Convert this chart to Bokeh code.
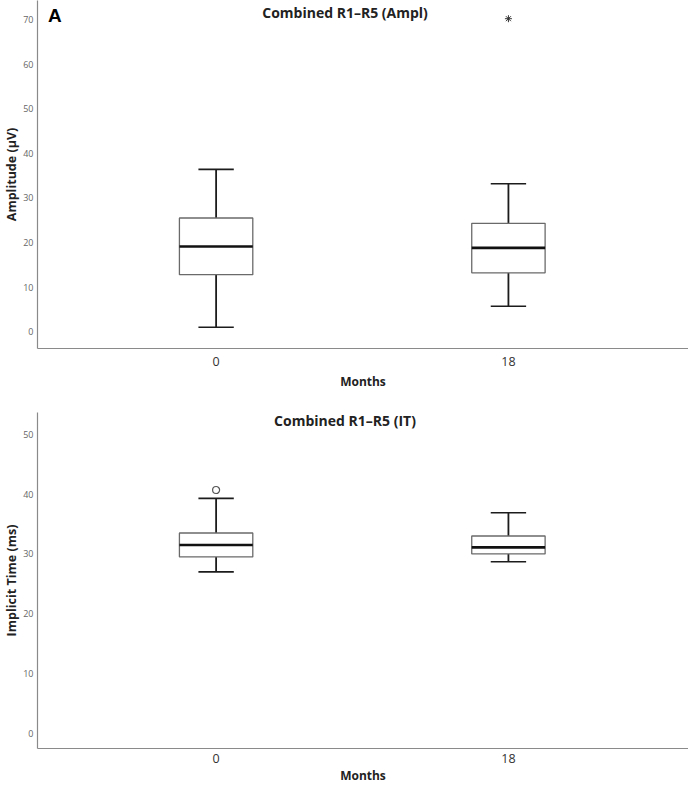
from bokeh.plotting import figure
from bokeh.layouts import column
from bokeh.models import Range1d, FixedTicker, Label
from bokeh.embed import file_html
from bokeh.resources import INLINE

# ---------------- data ----------------
months = ["0", "18"]

ampl_lower = [1.0, 5.7]
ampl_q1 = [12.8, 13.2]
ampl_median = [19.1, 18.8]
ampl_q3 = [25.5, 24.3]
ampl_upper = [36.4, 33.2]
ampl_extreme_month = ["18"]
ampl_extreme = [70.2]
ampl_ticks = [0, 10, 20, 30, 40, 50, 60, 70]

it_lower = [27.0, 28.7]
it_q1 = [29.5, 30.0]
it_median = [31.5, 31.1]
it_q3 = [33.5, 33.0]
it_upper = [39.3, 36.9]
it_outlier_month = ["0"]
it_outlier = [40.7]
it_ticks = [0, 10, 20, 30, 40, 50]

FONT = "Open Sans"
BOX_W = 0.251
CAP_W = 0.121
X_START, X_END = -0.611, 1.616


def make_chart(title, ylabel, lower, q1, med, q3, upper, yr, ticks,
               out_months, out_vals, out_marker, height, border_top,
               border_bottom, title_y, tick_standoff, label_standoff,
               panel_letter=None, letter_y=None):
    p = figure(width=688, height=height, output_backend="svg",
               toolbar_location=None,
               x_range=Range1d(X_START, X_END), y_range=Range1d(*yr),
               min_border_left=34, min_border_right=0,
               min_border_top=border_top, min_border_bottom=border_bottom)
    p.outline_line_color = None
    p.xgrid.visible = False
    p.ygrid.visible = False
    p.background_fill_color = "white"
    p.border_fill_color = "white"

    pos = [months.index(m) for m in months]
    xl = [x - BOX_W / 2 for x in pos]
    xr = [x + BOX_W / 2 for x in pos]
    cl = [x - CAP_W / 2 for x in pos]
    cr = [x + CAP_W / 2 for x in pos]

    wc = "#1c1c1c"
    # whiskers
    p.segment(x0=pos, y0=q3, x1=pos, y1=upper, line_color=wc, line_width=1.8)
    p.segment(x0=pos, y0=q1, x1=pos, y1=lower, line_color=wc, line_width=1.8)
    # caps
    p.segment(x0=cl, y0=upper, x1=cr, y1=upper, line_color=wc, line_width=1.6)
    p.segment(x0=cl, y0=lower, x1=cr, y1=lower, line_color=wc, line_width=1.6)
    # boxes
    p.quad(left=xl, right=xr, bottom=q1, top=q3, fill_color="white",
           line_color="#6a6a6a", line_width=1.3)
    # medians
    p.segment(x0=xl, y0=med, x1=xr, y1=med, line_color="#111111",
              line_width=2.6)

    # outliers
    ox = [months.index(m) for m in out_months]
    if out_marker == "circle":
        p.scatter(x=ox, y=out_vals, marker="circle", size=7,
                  fill_color="white", line_color="#555555", line_width=1.2)
    else:
        p.scatter(x=ox, y=out_vals, marker="asterisk", size=7,
                  line_color="#333333", line_width=1.0)

    # axes
    p.xaxis.ticker = FixedTicker(ticks=pos)
    p.xaxis.major_label_overrides = {i: m for i, m in zip(pos, months)}
    p.xaxis.major_label_text_font = FONT
    p.xaxis.major_label_text_font_size = "12.5px"
    p.xaxis.major_label_text_color = "#333333"
    p.xaxis.major_label_standoff = tick_standoff
    p.xaxis.axis_label = "Months"
    p.xaxis.axis_label_text_font = FONT
    p.xaxis.axis_label_text_font_style = "bold"
    p.xaxis.axis_label_text_font_size = "12px"
    p.xaxis.axis_label_text_color = "#222222"
    p.xaxis.axis_label_standoff = label_standoff

    p.yaxis.ticker = FixedTicker(ticks=ticks)
    p.yaxis.major_label_text_font = FONT
    p.yaxis.major_label_text_font_size = "9px"
    p.yaxis.major_label_text_color = "#666666"
    p.yaxis.major_label_standoff = 4
    p.yaxis.axis_label = ylabel
    p.yaxis.axis_label_text_font = FONT
    p.yaxis.axis_label_text_font_style = "bold"
    p.yaxis.axis_label_text_font_size = "12.5px"
    p.yaxis.axis_label_text_color = "#222222"
    p.yaxis.axis_label_standoff = 0

    for ax in (p.xaxis, p.yaxis):
        ax.major_tick_out = 0
        ax.major_tick_in = 0
        ax.minor_tick_out = 0
        ax.minor_tick_in = 0
        ax.axis_line_color = "#8a8a8a"
        ax.axis_line_width = 1.2

    # title inside the frame
    p.add_layout(Label(x=0.441, y=title_y, text=title, text_font=FONT,
                       text_font_style="bold", text_font_size="14px",
                       text_color="#222222", text_align="center",
                       text_baseline="middle"))
    if panel_letter:
        p.add_layout(Label(x=-0.552, y=letter_y, text=panel_letter,
                           text_font="Liberation Sans",
                           text_font_style="bold", text_font_size="19px",
                           text_color="#000000", text_align="center",
                           text_baseline="middle"))
    return p


p1 = make_chart("Combined R1\u2013R5 (Ampl)", "Amplitude (\u00b5V)",
                ampl_lower, ampl_q1, ampl_median, ampl_q3, ampl_upper,
                (-3.76, 74.28), ampl_ticks, ampl_extreme_month, ampl_extreme,
                "asterisk", 396, 0, 48, 71.6, 8, 4, "A", 71.0)
p2 = make_chart("Combined R1\u2013R5 (IT)", "Implicit Time (ms)",
                it_lower, it_q1, it_median, it_q3, it_upper,
                (-2.57, 53.67), it_ticks, it_outlier_month, it_outlier,
                "circle", 390, 16, 38, 52.36, 5, 1)

layout = column(p1, p2, spacing=0)
open("out.html", "w").write(file_html(layout, INLINE))
